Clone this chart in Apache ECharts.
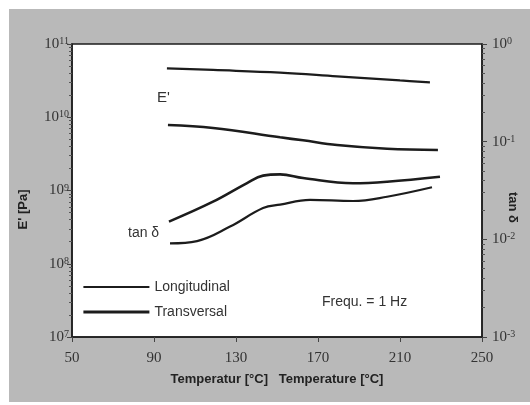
<!DOCTYPE html>
<html><head><meta charset="utf-8">
<script src="https://cdn.jsdelivr.net/npm/echarts@6/dist/echarts.min.js"></script>
<style>html,body{margin:0;padding:0;background:#fff}#c{width:530px;height:405px}</style>
</head><body><div id="c"></div>
<script>
// Axis ticks
const xTicks = [50, 90, 130, 170, 210, 250];
const eTicks = [1e7, 1e8, 1e9, 1e10, 1e11];
const tanTicks = [1e-3, 1e-2, 1e-1, 1e0];
const eMinorTicks = [2e7,3e7,4e7,5e7,6e7,7e7,8e7,9e7, 2e8,3e8,4e8,5e8,6e8,7e8,8e8,9e8,
  2e9,3e9,4e9,5e9,6e9,7e9,8e9,9e9, 2e10,3e10,4e10,5e10,6e10,7e10,8e10,9e10];
const tanMinorTicks = [2e-3,3e-3,4e-3,5e-3,6e-3,7e-3,8e-3,9e-3, 2e-2,3e-2,4e-2,5e-2,6e-2,7e-2,8e-2,9e-2,
  0.2,0.3,0.4,0.5,0.6,0.7,0.8,0.9];

// Series data (temperature in °C, E' in Pa, tan δ)
const tLongE = [96.3, 118.8, 151.5, 179.3, 210, 224.6];
const eLong = [4.66e10, 4.42e10, 4.07e10, 3.62e10, 3.18e10, 3.0e10];
const tTransE = [96.8, 118.8, 151.5, 162.7, 179.3, 203.7, 228.5];
const eTrans = [7.83e9, 7.13e9, 5.32e9, 4.84e9, 4.18e9, 3.72e9, 3.57e9];
const tLongTan = [97.8, 111, 127.1, 143.2, 151.5, 166.1, 187.1, 203.7, 225.6];
const tanLong = [0.0091, 0.0096, 0.0135, 0.0209, 0.0227, 0.0253, 0.0247, 0.0273, 0.0341];
const tTransTan = [97.3, 118.8, 135.4, 143.2, 151.5, 162.7, 187.1, 203.7, 229.5];
const tanTrans = [0.0152, 0.0243, 0.0377, 0.0449, 0.0463, 0.0425, 0.0375, 0.0389, 0.0438];

function pairs(t, v) { return t.map((x, i) => [x, v[i]]); }
function pow10Label(v) {
  const e = Math.round(Math.log10(v));
  return '{b|10}{s|' + e + '}';
}
const serif = 'Liberation Serif';
const sans = 'Liberation Sans';
const ink = '#1c1c1c';
const labelRich = {
  b: { fontFamily: serif, fontSize: 15, color: '#333', lineHeight: 15 },
  s: { fontFamily: serif, fontSize: 10, color: '#333', verticalAlign: 'top', lineHeight: 10 }
};

const chart = echarts.init(document.getElementById('c'));
const lineBase = { type: 'line', smooth: 0.4, symbol: 'none', showSymbol: false };

chart.setOption({
  animation: false,
  graphic: { elements: [
    { type: 'rect', z: -10, silent: true, shape: { x: 9, y: 9, width: 521, height: 393 }, style: { fill: '#b9b9b9' } },
    { type: 'text', left: 157, top: 90, style: { text: "E'", fontFamily: sans, fontSize: 15, fill: '#333' } },
    { type: 'text', left: 128, top: 226, style: { text: 'tan δ', fontFamily: sans, fontSize: 14, fill: '#333' } },
    { type: 'text', left: 322, top: 295, style: { text: 'Frequ. = 1 Hz', fontFamily: sans, fontSize: 14, fill: '#333' } }
  ]},
  grid: { left: 72, right: 48, top: 44, bottom: 68, outerBoundsMode: 'none', containLabel: false,
    show: true, backgroundColor: '#fff', borderColor: ink, borderWidth: 1.5 },
  legend: {
    data: [
      { name: 'Longitudinal', lineStyle: { width: 1.8 } },
      { name: 'Transversal', lineStyle: { width: 2.8 } }
    ],
    orient: 'vertical', left: 82, top: 280, padding: 0,
    itemWidth: 66, itemHeight: 14, itemGap: 11, selectedMode: false,
    itemStyle: { opacity: 0 },
    textStyle: { fontFamily: sans, fontSize: 14, color: '#333' }
  },
  xAxis: {
    type: 'value', min: 50, max: 250,
    name: 'Temperatur [°C]   Temperature [°C]', nameLocation: 'middle', nameGap: 36,
    nameTextStyle: { fontFamily: sans, fontWeight: 'bold', fontSize: 13, color: '#222' },
    axisLine: { lineStyle: { color: ink, width: 1.5 } },
    axisTick: { customValues: xTicks, length: 5, lineStyle: { color: '#444' } },
    axisLabel: { customValues: xTicks, fontFamily: serif, fontSize: 15, color: '#333', margin: 14 },
    splitLine: { show: false }
  },
  yAxis: [
    {
      type: 'log', logBase: 10, min: 1e7, max: 1e11, position: 'left',
      name: "E' [Pa]", nameLocation: 'middle', nameGap: 42,
      nameTextStyle: { fontFamily: sans, fontWeight: 'bold', fontSize: 13, color: '#222', padding: [0, 38, 0, 0] },
      axisLine: { show: true, lineStyle: { color: ink, width: 1.5 } },
      axisTick: { customValues: eTicks, length: 5, lineStyle: { color: '#444' } },
      axisLabel: { customValues: eTicks, formatter: pow10Label, rich: labelRich, margin: 3 },
      splitLine: { show: false }
    },
    {
      type: 'log', logBase: 10, min: 1e-3, max: 1, position: 'right',
      name: 'tan δ', nameLocation: 'middle', nameGap: 24, nameRotate: -90, nameMoveOverlap: false,
      nameTextStyle: { fontFamily: sans, fontWeight: 'bold', fontSize: 13, color: '#222', padding: [0, 0, 0, 34] },
      axisLine: { show: true, lineStyle: { color: ink, width: 1.5 } },
      axisTick: { customValues: tanTicks, length: 5, lineStyle: { color: '#444' } },
      axisLabel: { customValues: tanTicks, formatter: pow10Label, rich: labelRich, margin: 10 },
      splitLine: { show: false }
    },
    {
      type: 'log', logBase: 10, min: 1e7, max: 1e11, position: 'left',
      axisLine: { show: false }, axisLabel: { show: false }, splitLine: { show: false },
      axisTick: { customValues: eMinorTicks, length: 3, lineStyle: { color: '#555' } }
    },
    {
      type: 'log', logBase: 10, min: 1e-3, max: 1, position: 'right',
      axisLine: { show: false }, axisLabel: { show: false }, splitLine: { show: false },
      axisTick: { customValues: tanMinorTicks, length: 3, lineStyle: { color: '#555' } }
    }
  ],
  series: [
    Object.assign({}, lineBase, { name: 'Longitudinal', yAxisIndex: 0, data: pairs(tLongE, eLong),
      lineStyle: { color: ink, width: 2.2 }, itemStyle: { color: ink } }),
    Object.assign({}, lineBase, { name: 'Transversal', yAxisIndex: 0, data: pairs(tTransE, eTrans),
      lineStyle: { color: ink, width: 2.6 }, itemStyle: { color: ink } }),
    Object.assign({}, lineBase, { name: 'Longitudinal', yAxisIndex: 1, data: pairs(tLongTan, tanLong),
      lineStyle: { color: ink, width: 2.2 }, itemStyle: { color: ink } }),
    Object.assign({}, lineBase, { name: 'Transversal', yAxisIndex: 1, data: pairs(tTransTan, tanTrans),
      lineStyle: { color: ink, width: 2.6 }, itemStyle: { color: ink } })
  ]
});
</script></body></html>
